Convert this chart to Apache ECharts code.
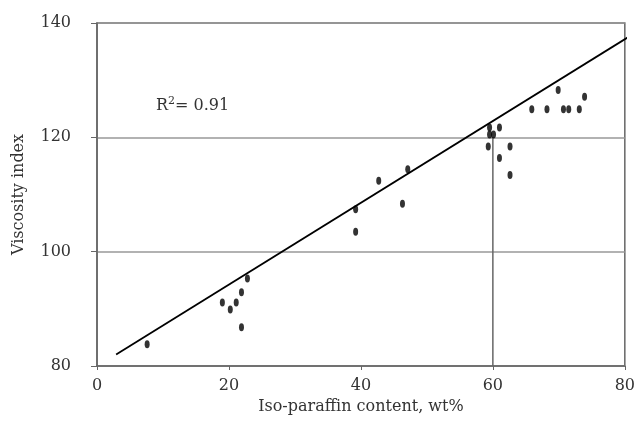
<!DOCTYPE html>
<html>
<head>
<meta charset="utf-8">
<title>Viscosity index vs iso-paraffin content</title>
<script src="https://cdn.jsdelivr.net/npm/echarts@6/dist/echarts.min.js"></script>
<style>
  html, body { margin: 0; padding: 0; background: #fff; }
  #chart { width: 638px; height: 423px; }
</style>
</head>
<body>
<div id="chart"></div>
<script>
// measured points (iso-paraffin wt%, viscosity index)
var isoParaffin = [7.6, 19.0, 20.2, 21.1, 21.9, 21.9, 22.8, 39.2, 39.2, 42.7, 46.3, 47.1,
  59.5, 59.5, 60.1, 61.0, 59.3, 61.0, 62.6, 62.6, 65.9, 68.2, 69.9, 70.7, 71.5, 73.1, 73.9];
var viscosityIndex = [83.8, 91.1, 89.9, 91.1, 92.9, 86.8, 95.3, 107.4, 103.5, 112.4, 108.4, 114.4,
  121.7, 120.5, 120.5, 121.7, 118.4, 116.4, 118.4, 113.4, 124.9, 124.9, 128.3, 124.9, 124.9, 124.9, 127.1];

// linear fit ends
var fitX = [2.9, 80.9];
var fitY = [82.0, 137.8];

// guide line at 60 wt% up to VI 120
var guideX = [60, 60];
var guideY = [80, 120];

var xTicks = [0, 20, 40, 60, 80];
var yTicks = [80, 100, 120, 140];

function pairs(a, b) {
  return a.map(function (v, i) { return [v, b[i]]; });
}

var myChart = echarts.init(document.getElementById('chart'));
var font = 'DejaVu Serif';
var option = {
  backgroundColor: '#fff',
  animation: false,
  grid: {
    left: 97,
    right: 12,
    top: 23,
    bottom: 57,
    show: true,
    borderColor: '#666',
    borderWidth: 1.5
  },
  graphic: [{
    type: 'text',
    left: 156,
    top: 96,
    style: {
      text: 'R{sup|2}= 0.91',
      fontFamily: font,
      fontSize: 16,
      lineHeight: 20,
      fill: '#333',
      rich: {
        sup: { fontFamily: font, fontSize: 11, lineHeight: 11, verticalAlign: 'top', fill: '#333' }
      }
    }
  }],
  xAxis: {
    type: 'value',
    min: xTicks[0],
    max: xTicks[xTicks.length - 1],
    interval: 20,
    name: 'Iso-paraffin content, wt%',
    nameLocation: 'middle',
    nameGap: 27,
    nameTextStyle: { fontFamily: font, fontSize: 16, color: '#333' },
    axisLine: { show: true, lineStyle: { color: '#666', width: 1.5 } },
    axisTick: { show: true, length: 4, lineStyle: { color: '#666' } },
    axisLabel: { fontFamily: font, fontSize: 16, color: '#333', margin: 12 },
    splitLine: { show: false }
  },
  yAxis: {
    type: 'value',
    min: yTicks[0],
    max: yTicks[yTicks.length - 1],
    interval: 20,
    name: 'Viscosity index',
    nameLocation: 'middle',
    nameGap: 70,
    nameTextStyle: { fontFamily: font, fontSize: 16, color: '#333' },
    axisLine: { show: true, lineStyle: { color: '#666', width: 1.5 } },
    axisTick: { show: true, length: 6, lineStyle: { color: '#666' } },
    axisLabel: { fontFamily: font, fontSize: 16, color: '#333', margin: 26 },
    splitLine: { show: true, lineStyle: { color: '#999', width: 1.5 } }
  },
  series: [
    {
      name: 'guide',
      type: 'line',
      data: pairs(guideX, guideY),
      symbol: 'none',
      lineStyle: { color: '#666', width: 1.5 },
      z: 1
    },
    {
      name: 'fit',
      type: 'line',
      data: pairs(fitX, fitY),
      symbol: 'none',
      clip: false,
      lineStyle: { color: '#000', width: 1.8 },
      z: 2
    },
    {
      name: 'VI',
      type: 'scatter',
      data: pairs(isoParaffin, viscosityIndex),
      symbol: 'path://M0,5a3,5 0 1,0 6,0a3,5 0 1,0 -6,0z',
      symbolSize: [5, 8],
      itemStyle: { color: '#000' },
      z: 3
    }
  ]
};
myChart.setOption(option);
</script>
</body>
</html>
